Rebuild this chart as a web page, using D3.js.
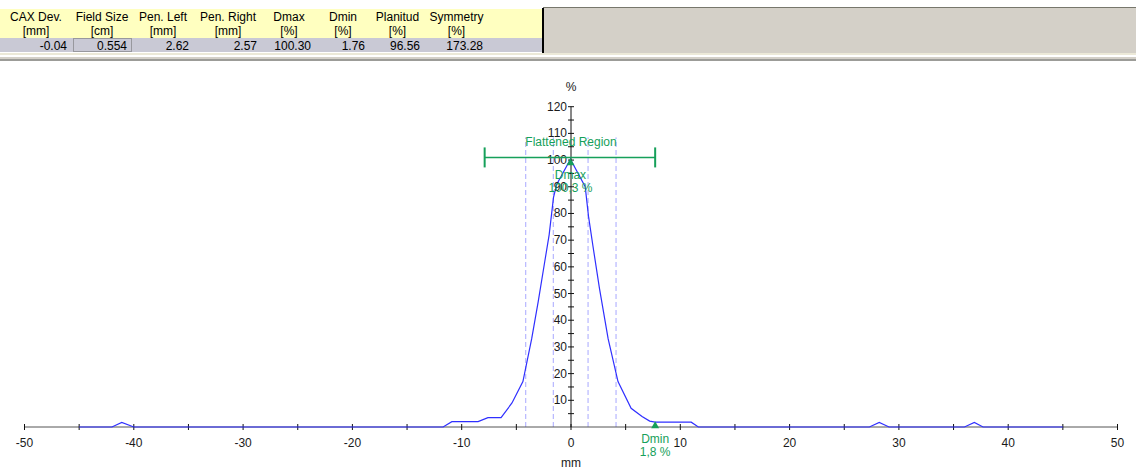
<!DOCTYPE html>
<html lang="en">
<head>
<meta charset="UTF-8"/>
<title>profile</title>
<script src="https://d3js.org/d3.v7.min.js" charset="utf-8"></script>
<style type="text/css">
    body { margin: 0; background: #fff; }
    text { font-family: "Liberation Sans", Arial, sans-serif; font-size: 12px; }
</style>
</head>
<body>
<div id="my_dataviz"></div>
<script>

// table data
var headers = ["CAX Dev.", "Field Size", "Pen. Left", "Pen. Right", "Dmax", "Dmin", "Planitud", "Symmetry", ""];
var units   = ["[mm]", "[cm]", "[mm]", "[mm]", "[%]", "[%]", "[%]", "[%]", ""];
var values  = ["-0.04", "0.554", "2.62", "2.57", "100.30", "1.76", "96.56", "173.28", ""];

// profile data (mm, %)
var profileX = [-45, -42, -41.1, -40, -11.7, -10.9, -8.5, -7.6, -6.4, -5.4, -4.4, -3.6, -3.0, -2.4, -2.0, -1.6, -1.3, -0.05,
                1.3, 1.6, 2.0, 2.6, 3.4, 4.3, 5.5, 6.5, 7.2, 7.7, 11.0, 11.65, 27.3, 28.2, 29.1, 36.0, 36.9, 37.7, 45];
var profileY = [0, 0, 1.7, 0, 0, 2.0, 2.0, 3.5, 3.5, 9, 17, 33, 47, 62, 72, 86, 91, 100.3,
                90, 79, 68, 52, 33, 17, 7, 3.9, 2.2, 1.8, 1.8, 0, 0, 1.7, 0, 0, 1.7, 0, 0];

// penumbra markers (mm)
var penLines = [-4.14, -1.62, 1.56, 4.12];
var penTop = 108.5;

// flattened region (mm) and level (%)
var flatRange = [-7.9, 7.7];
var flatLevel = 101;

// Dmax / Dmin
var dmax = {x: -0.05, y: 100.3, label: ["Dmax", "100,3 %"]};
var dmin = {x: 7.7, y: 1.8, label: ["Dmin", "1,8 %"]};

var xTicks = d3.range(-50, 51, 5);
var xLabels = d3.range(-50, 51, 10);
var yTicks = d3.range(5, 121, 5);
var yLabels = d3.range(10, 121, 10);

var W = 1136, H = 474;
var colEdges = [0, 72, 132, 194, 262, 316, 370, 425, 488, 542];

var svg = d3.select("#my_dataviz")
  .append("svg")
    .attr("width", W)
    .attr("height", H);

// ---------- table ----------
svg.append("rect").attr("x", 543).attr("y", 8).attr("width", W - 543).attr("height", 45).attr("fill", "#d4d0c8");
svg.append("line").attr("x1", 543).attr("x2", W).attr("y1", 7.5).attr("y2", 7.5).attr("stroke", "#77776c");
svg.append("rect").attr("x", 0).attr("y", 53).attr("width", W).attr("height", 2).attr("fill", "#ece9d8");
svg.append("rect").attr("x", 0).attr("y", 57).attr("width", W).attr("height", 2).attr("fill", "#d4d0c8");
svg.append("rect").attr("x", 0).attr("y", 59).attr("width", W).attr("height", 2).attr("fill", "#9c9c98");

var cells = svg.append("g");
headers.forEach(function(h, i) {
  var x0 = colEdges[i], x1 = colEdges[i + 1], cx = (x0 + x1) / 2;
  cells.append("rect").attr("x", x0).attr("y", 9).attr("width", x1 - x0).attr("height", 29).attr("fill", "#ffffc0");
  cells.append("rect").attr("x", x0).attr("y", 38).attr("width", x1 - x0).attr("height", 14).attr("fill", "#c9c9d5");
  cells.append("text").attr("x", cx).attr("y", 21).attr("text-anchor", "middle").attr("fill", "#000").text(h);
  cells.append("text").attr("x", cx).attr("y", 35).attr("text-anchor", "middle").attr("fill", "#000").text(units[i]);
  cells.append("text").attr("x", x1 - 5).attr("y", 50).attr("text-anchor", "end").attr("fill", "#000").text(values[i]);
  if (i < headers.length - 1)
    cells.append("line").attr("x1", x1 + 0.5).attr("x2", x1 + 0.5).attr("y1", 9).attr("y2", 52).attr("stroke", "#8a8a80");
});
cells.append("line").attr("x1", 543).attr("x2", 543).attr("y1", 8).attr("y2", 53).attr("stroke", "#000").attr("stroke-width", 2);
cells.append("rect").attr("x", 73.5).attr("y", 38.5).attr("width", 58).attr("height", 13)
  .attr("fill", "none").attr("stroke", "#666").attr("stroke-dasharray", "1,1");

// ---------- chart ----------
var x = d3.scaleLinear().domain([-50, 50]).range([24.5, 1117.5]);
var y = d3.scaleLinear().domain([0, 120]).range([427, 106.7]);

var g = svg.append("g");

// penumbra dashed lines
g.selectAll("penline")
  .data(penLines)
  .enter()
  .append("line")
    .attr("x1", function(d) { return x(d); })
    .attr("x2", function(d) { return x(d); })
    .attr("y1", y(0))
    .attr("y2", y(penTop))
    .attr("stroke", "#a8a8ff")
    .attr("stroke-dasharray", "5,3");

// X axis
var xAxis = g.append("g").attr("transform", "translate(0," + y(0) + ")");
xAxis.append("line").attr("x1", x(-50)).attr("x2", x(50)).attr("stroke", "#555");

// profile line
var pts = profileX.map(function(d, i) { return [d, profileY[i]]; });
g.append("path")
  .datum(pts)
  .attr("fill", "none")
  .attr("stroke", "#2f2fff")
  .attr("stroke-width", 1.2)
  .attr("d", d3.line().x(function(d) { return x(d[0]); }).y(function(d) { return y(d[1]); }));

xAxis.selectAll("xt")
  .data(xTicks)
  .enter()
  .append("line")
    .attr("x1", function(d) { return x(d); })
    .attr("x2", function(d) { return x(d); })
    .attr("y1", -3).attr("y2", 3)
    .attr("stroke", "#111");
xAxis.selectAll("xl")
  .data(xLabels)
  .enter()
  .append("text")
    .attr("x", function(d) { return x(d); })
    .attr("y", 20)
    .attr("text-anchor", "middle")
    .attr("fill", "#1a1a1a")
    .text(function(d) { return d; });
g.append("text").attr("x", x(0)).attr("y", 467).attr("text-anchor", "middle").attr("fill", "#1a1a1a").text("mm");

// Y axis
var yAxis = g.append("g").attr("transform", "translate(" + x(0) + ",0)");
yAxis.append("line").attr("y1", y(0)).attr("y2", y(120)).attr("stroke", "#111");
yAxis.selectAll("yt")
  .data(yTicks)
  .enter()
  .append("line")
    .attr("x1", -3).attr("x2", 3)
    .attr("y1", function(d) { return y(d); })
    .attr("y2", function(d) { return y(d); })
    .attr("stroke", "#111");
yAxis.selectAll("yl")
  .data(yLabels)
  .enter()
  .append("text")
    .attr("x", -4)
    .attr("y", function(d) { return y(d) + 4; })
    .attr("text-anchor", "end")
    .attr("fill", "#1a1a1a")
    .text(function(d) { return d; });
yAxis.append("text").attr("x", 0).attr("y", 91).attr("text-anchor", "middle").attr("fill", "#1a1a1a").text("%");

// flattened region
var green = "#16a05a";
var fy = y(flatLevel);
g.append("line").attr("x1", x(flatRange[0])).attr("x2", x(flatRange[1])).attr("y1", fy).attr("y2", fy)
  .attr("stroke", green).attr("stroke-width", 1.5);
flatRange.forEach(function(d) {
  g.append("line").attr("x1", x(d)).attr("x2", x(d)).attr("y1", fy - 10).attr("y2", fy + 10)
    .attr("stroke", green).attr("stroke-width", 2);
});
g.append("text").attr("x", x(0)).attr("y", 146).attr("text-anchor", "middle").attr("fill", green).text("Flattened Region");

// Dmax / Dmin markers
[dmax, dmin].forEach(function(m, k) {
  var px = x(m.x), py = y(m.y);
  g.append("path")
    .attr("d", "M" + px + "," + (py - 1) + "L" + (px + 4) + "," + (py + 6) + "L" + (px - 4) + "," + (py + 6) + "Z")
    .attr("fill", green);
  var ty = k === 0 ? 179 : 443;
  m.label.forEach(function(t, j) {
    g.append("text").attr("x", px).attr("y", ty + j * 13).attr("text-anchor", "middle").attr("fill", green).text(t);
  });
});

</script>
</body>
</html>
